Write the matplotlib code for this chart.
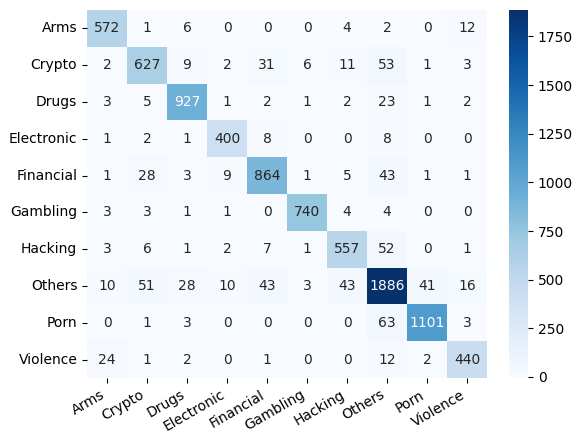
import numpy as np
import matplotlib
matplotlib.use("Agg")
import matplotlib.pyplot as plt
import seaborn as sns

# -----------------------------
# Data
# -----------------------------
labels = ["Arms", "Crypto", "Drugs", "Electronic", "Financial",
          "Gambling", "Hacking", "Others", "Porn", "Violence"]

cm = np.array([
    [572, 1, 6, 0, 0, 0, 4, 2, 0, 12],
    [2, 627, 9, 2, 31, 6, 11, 53, 1, 3],
    [3, 5, 927, 1, 2, 1, 2, 23, 1, 2],
    [1, 2, 1, 400, 8, 0, 0, 8, 0, 0],
    [1, 28, 3, 9, 864, 1, 5, 43, 1, 1],
    [3, 3, 1, 1, 0, 740, 4, 4, 0, 0],
    [3, 6, 1, 2, 7, 1, 557, 52, 0, 1],
    [10, 51, 28, 10, 43, 3, 43, 1886, 41, 16],
    [0, 1, 3, 0, 0, 0, 0, 63, 1101, 3],
    [24, 1, 2, 0, 1, 0, 0, 12, 2, 440],
])

# -----------------------------
# Plot
# -----------------------------
W, H = 575, 432
fig = plt.figure(figsize=(W / 100, H / 100), dpi=100)
ax = fig.add_axes([87 / W, 1 - 378 / H, (487 - 87) / W, 368 / H])
cax = fig.add_axes([509 / W, 1 - 377 / H, 19 / W, 367 / H])

sns.heatmap(cm, annot=True, fmt="d", cmap="Blues",
            xticklabels=labels, yticklabels=labels,
            ax=ax, cbar_ax=cax, annot_kws={"fontsize": 10})

ax.set_xticklabels(labels, rotation=30, ha="right")
ax.set_yticklabels(labels, rotation=0)
cax.set_yticks(np.arange(0, 1751, 250))

fig.savefig("out.png", dpi=100)
